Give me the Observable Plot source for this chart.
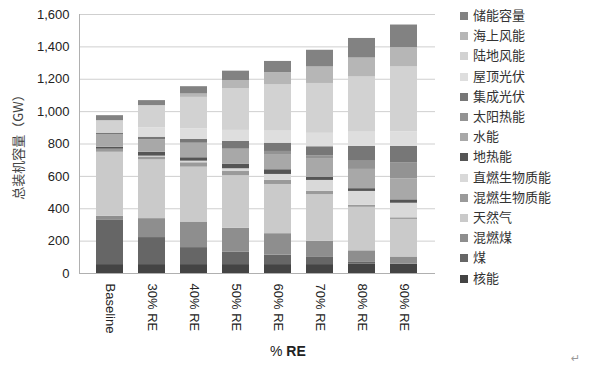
<!DOCTYPE html>
<html><head><meta charset="utf-8">
<script src="https://cdn.jsdelivr.net/npm/d3@7"></script>
<script src="https://cdn.jsdelivr.net/npm/@observablehq/plot@0.6"></script>
<style>
body{margin:0;background:#fff;}
#wrap{position:relative;width:604px;height:367px;overflow:hidden;font-family:"Liberation Sans",Arial,"Noto Sans CJK SC",sans-serif;}
#legend{position:absolute;left:460px;top:0;}
.li{position:absolute;left:0;white-space:nowrap;font-family:"Noto Sans CJK SC",sans-serif;font-size:13px;color:#333;line-height:16px;}
.sw{position:absolute;left:0;top:4px;width:8px;height:8px;}
.lt{position:absolute;left:13px;top:-1px;}
#xtitle{position:absolute;left:270px;top:343px;font-size:14px;color:#222;font-family:"Liberation Sans",Arial,sans-serif;}
#mark{position:absolute;left:571px;top:352px;font-size:11px;color:#999;font-family:"DejaVu Sans",sans-serif;}
</style></head><body><div id="wrap"><div id="legend"></div><div id="xtitle">% <b>RE</b></div><div id="mark">↵</div></div>
<script>
const categories = ["Baseline","30% RE","40% RE","50% RE","60% RE","70% RE","80% RE","90% RE"];
const seriesNames = ["核能","煤","混燃煤","天然气","混燃生物质能","直燃生物质能","地热能","水能","太阳热能","集成光伏","屋顶光伏","陆地风能","海上风能","储能容量"];
const seriesColors = ["#444444","#666666","#8e8e8e","#cacaca","#9a9a9a","#d9d9d9","#555555","#a8a8a8","#939393","#777777","#dedede","#d2d2d2","#b6b6b6","#828282"];
const nuclear      = [55,55,55,55,55,55,57,57];
const coal         = [273,167,105,78,58,48,15,0];
const cofiredCoal  = [25,117,158,146,133,96,68,45];
const naturalGas   = [396,363,339,325,304,288,269,232];
const cofiredBio   = [19,18,27,26,25,20,12,10];
const directBio    = [0,5,10,17,37,68,86,90];
const geothermal   = [12,24,21,27,29,18,17,21];
const hydro        = [76,77,90,92,94,113,119,129];
const solarThermal = [0,0,0,5,19,20,55,98];
const utilityPV    = [11,16,23,45,51,57,87,103];
const rooftopPV    = [0,58,66,68,74,83,88,90];
const onshoreWind  = [77,137,194,257,286,308,341,401];
const offshoreWind = [0,0,21,51,76,102,117,119];
const storage      = [31,31,45,58,69,103,121,140];
const yTicks = [0,200,400,600,800,1000,1200,1400,1600];

const seriesValues = [nuclear,coal,cofiredCoal,naturalGas,cofiredBio,directBio,geothermal,hydro,solarThermal,utilityPV,rooftopPV,onshoreWind,offshoreWind,storage];
const rows = [];
categories.forEach((c, i) => {
  seriesNames.forEach((s, j) => rows.push({category: c, series: s, value: seriesValues[j][i]}));
});

const chart = Plot.plot({
  width: 604, height: 367,
  marginLeft: 79, marginRight: 169, marginTop: 14, marginBottom: 94,
  style: {fontFamily: '"Liberation Sans", Arial, "Noto Sans CJK SC", sans-serif', fontSize: "13px", color: "#222", background: "transparent"},
  x: {domain: categories, padding: 0.35, label: null},
  y: {domain: [0, 1600], label: null},
  color: {domain: seriesNames, range: seriesColors},
  marks: [
    Plot.gridY(yTicks, {stroke: "#cfcfcf", strokeOpacity: 1}),
    Plot.barY(rows, {x: "category", y: "value", fill: "series"}),
    Plot.frame({anchor: "left", stroke: "#b0b0b0"}),
    Plot.ruleY([0], {stroke: "#b0b0b0"}),
    Plot.axisY(yTicks, {tickSize: 0, tickPadding: 10, tickFormat: d3.format(","), label: "总装机容量（GW）", labelAnchor: "center", labelArrow: "none", labelOffset: 66}),
    Plot.axisX({tickSize: 0, tickRotate: 90, tickPadding: 10, label: null})
  ]
});
document.getElementById("wrap").prepend(chart);
chart.style.position = "absolute"; chart.style.left = "0"; chart.style.top = "0";
chart.querySelectorAll("[aria-label='y-axis label'] text, [aria-label='y-axis label']").forEach(t => {t.style.fontFamily = '"Noto Sans CJK SC", sans-serif'; t.setAttribute("fill", "#444");});

const legend = document.getElementById("legend");
seriesNames.slice().reverse().forEach((s, k) => {
  const item = document.createElement("div");
  item.className = "li";
  item.style.top = (8 + k * 20.2) + "px";
  const sw = document.createElement("div");
  sw.className = "sw";
  sw.style.background = seriesColors[seriesNames.indexOf(s)];
  const t = document.createElement("span");
  t.className = "lt";
  t.textContent = s;
  item.appendChild(sw); item.appendChild(t);
  legend.appendChild(item);
});
</script></body></html>
